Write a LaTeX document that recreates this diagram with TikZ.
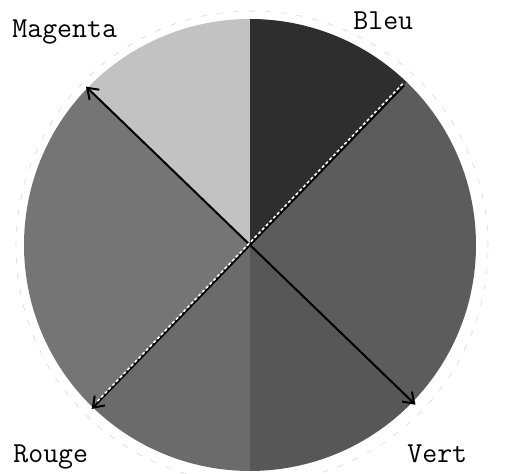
\documentclass[tikz,border=0pt]{standalone}
\usetikzlibrary{arrows.meta}
\begin{document}
\begin{tikzpicture}[x=0.5pt,y=0.5pt,
  lbl/.style={font=\ttfamily\fontsize{14.5}{16}\selectfont, anchor=base west, inner sep=0pt},
  axisarrow/.style={line width=1pt, black}]
\useasboundingbox (0,0) rectangle (527,474);
\fill[white] (0,0) rectangle (527,474);
\coordinate (c) at (250,229);
% faint outer circle
\draw[black!15, line width=0.3pt, dash pattern=on 3pt off 5pt] (252,227) circle (236);
\begin{scope}[shift={(c)}]
  \fill[black!82] (0,0) -- (46:226) arc (46:90:226) -- cycle;
  \fill[black!64] (0,0) -- (-44:226) arc (-44:46:226) -- cycle;
  \fill[black!66] (0,0) -- (-90:226) arc (-90:-44:226) -- cycle;
  \fill[black!58] (0,0) -- (-134:226) arc (-134:-90:226) -- cycle;
  \fill[black!54] (0,0) -- (136:226) arc (136:226:226) -- cycle;
  \fill[black!24] (0,0) -- (90:226) arc (90:136:226) -- cycle;
  \coordinate (mag) at (136:228);
  \coordinate (ver) at (-44:230);
  \coordinate (rou) at (-134:228);
  \coordinate (ble) at (46:222);
\end{scope}
% arrows
\draw[axisarrow, {Straight Barb[length=5pt,width=7pt]}-{Straight Barb[length=5pt,width=7pt]}] (mag) -- (ver);
\draw[axisarrow, -{Straight Barb[length=5pt,width=7pt]}] (ble) -- (rou);
\draw[white, line width=0.8pt, dash pattern=on 1.5pt off 1.2pt] ([shift={(-1.5,1.5)}]ble) -- ([shift={(5,7)}]rou);
% labels
\node[lbl] (lmag) at (12,436) {Magenta};
\node[lbl] (lble) at (353,444) {Bleu};
\node[lbl] (lrou) at (13,11) {Rouge};
\node[lbl] (lver) at (407,11) {Vert};
\end{tikzpicture}
\end{document}
